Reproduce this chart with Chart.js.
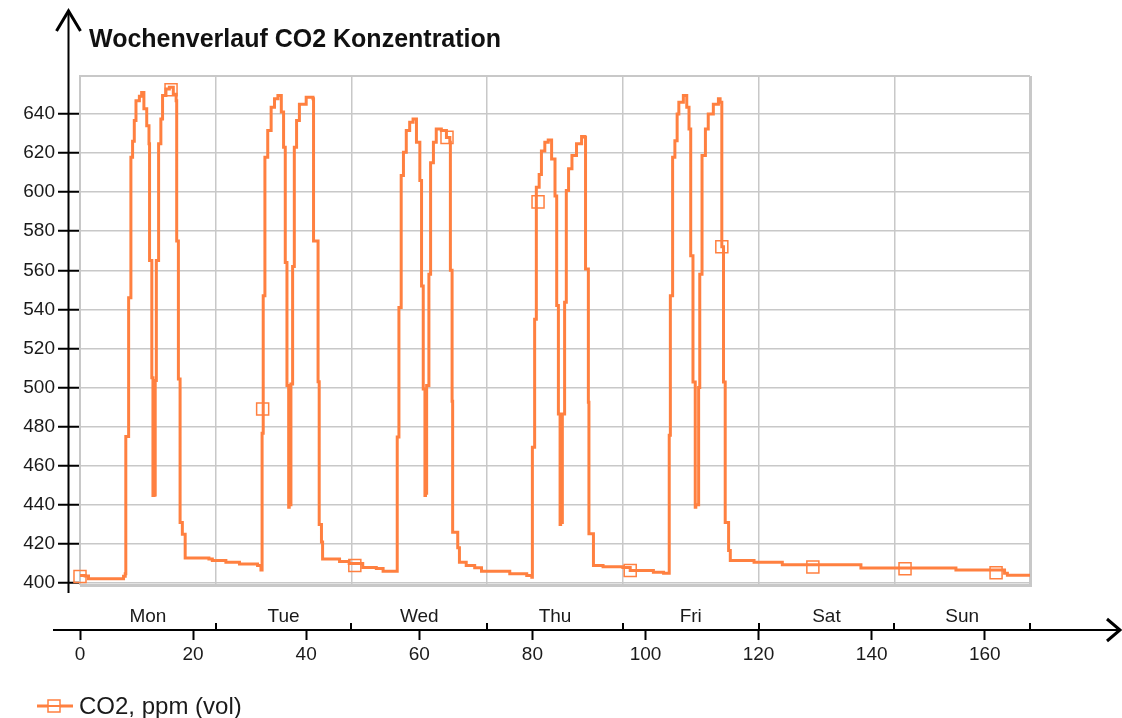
<!DOCTYPE html>
<html>
<head>
<meta charset="utf-8">
<title>Wochenverlauf CO2 Konzentration</title>
<script src="https://cdn.jsdelivr.net/npm/chart.js@4.4.1/dist/chart.umd.min.js"></script>
<style>
  html, body { margin: 0; padding: 0; background: #fff; }
  canvas { display: block; }
</style>
</head>
<body>
<canvas id="co2Chart" width="1122" height="718"></canvas>
<script>
// Chart data (hours since Monday 00:00, CO2 in ppm)
const chartTitle = 'Wochenverlauf CO2 Konzentration';
const seriesLabel = 'CO2, ppm (vol)';
const dayLabels = ['Mon', 'Tue', 'Wed', 'Thu', 'Fri', 'Sat', 'Sun'];

const hours = [
  // Mon
  0, 0.9, 1.5, 7.2, 7.7, 8.0,
  8.1, 8.6, 9.0, 9.3, 9.6, 9.9,
  10.5, 10.9, 11.3, 11.8, 12.2, 12.3,
  12.7, 12.9, 13.1, 13.3, 13.5, 13.9,
  14.3, 14.6, 15.2, 15.8, 16.5, 17.0,
  17.1, 17.4, 17.7, 18.1, 18.6, 22.8,
  23.4, 25.8, 28.2, 31.4, 32.0,
  // Tue
  32.2, 32.4, 32.7, 33.2, 33.8, 34.4,
  35.0, 35.6, 36.0, 36.3, 36.6, 36.9,
  37.0, 37.3, 37.6, 37.9, 38.3, 38.8,
  40.0, 41.2, 41.3, 42.1, 42.3, 42.7,
  42.9, 45.9, 47.6, 50.0, 52.4, 53.6,
  55.9,
  // Wed
  56.1, 56.4, 56.8, 57.2, 57.7, 58.3,
  58.9, 59.5, 60.1, 60.4, 60.7, 61.0,
  61.1, 61.3, 61.7, 62.0, 62.5, 63.0,
  63.9, 64.8, 65.4, 65.5, 65.8, 65.9,
  66.8, 67.1, 68.3, 69.8, 71.0, 73.6,
  76.0, 79.0, 79.9,
  // Thu
  80.0, 80.4, 80.7, 81.2, 81.6, 82.2,
  82.8, 83.4, 84.0, 84.3, 84.6, 84.9,
  85.0, 85.3, 85.7, 86.0, 86.4, 87.0,
  87.8, 88.7, 89.3, 89.4, 89.9, 90.0,
  90.8, 92.5, 96.0, 97.3, 100.9, 101.4,
  103.2, 104.0,
  // Fri - Sun
  104.2, 104.4, 104.8, 105.2, 105.6, 105.9,
  106.7, 107.3, 107.7, 108.0, 108.4, 108.8,
  108.9, 109.4, 109.6, 110.0, 110.6, 111.1,
  112.0, 112.9, 113.2, 113.5, 113.8, 114.1,
  114.7, 115.0, 119.1, 119.2, 124.1, 124.2,
  138.0, 138.1, 154.8, 154.9, 163.4, 163.5,
  164.0, 168.0
];

const co2 = [
  // Mon
  403.8, 403.6, 402.2, 402.2, 403.5, 404.7,
  475, 546, 617.8, 626, 636.6, 646.8,
  649, 651, 642.6, 634, 624.7, 565,
  505, 444.8, 445, 503.6, 565, 624.7,
  637.4, 649.4, 652.8, 653.6, 650, 646.8,
  575, 504.4, 431, 425, 412.8, 412.3,
  411.5, 410.6, 409.8, 409, 406.7,
  // Tue
  476.6, 547, 617.8, 631.5, 643.4, 647.7,
  649.4, 641, 623, 564, 501, 438.8,
  440, 501.8, 562, 623, 636.6, 645,
  648.5, 647.7, 575, 503, 430, 421,
  412.3, 411, 410, 408, 407.4, 406,
  406,
  // Wed
  474.7, 541, 608.5, 620.4, 631.5, 635.7,
  637.4, 625.5, 606, 552, 499.3, 444.8,
  446, 501, 558, 615, 625.5, 632.3,
  631.5, 628, 625.5, 560, 493, 426,
  418, 410.7, 409, 407.8, 406, 406,
  404.7, 403.9, 403,
  // Thu
  469.5, 535, 602.5, 609, 621, 625.5,
  626.6, 617, 598, 542, 486.5, 430,
  431, 486.5, 543.7, 600.8, 612, 618.7,
  624.7, 628.4, 628, 560.7, 492.5, 425.2,
  409, 408.3, 407.9, 406.4, 406.4, 405.5,
  405, 405,
  // Fri - Sun
  475.6, 547, 617.8, 626.3, 640, 646,
  649.4, 643.4, 632.3, 567.5, 502.8, 438.8,
  440, 500, 558, 618.7, 632.3, 640,
  645, 647.7, 646, 572, 502.8, 431,
  416.6, 411.5, 411.5, 410.6, 410.6, 409.4,
  409.4, 407.7, 407.7, 406.7, 406.7, 405,
  404, 404
];

// Square markers drawn on the series
const markerHours = [0, 16.1, 32.3, 48.6, 64.9, 81.0, 97.3, 113.5, 129.6, 145.9, 162.0];
const markerCo2 = [403.3, 652.4, 489, 409, 628, 595, 406.4, 572, 408.2, 407.3, 405.3];

// Axis ticks
const xTicks = [0, 20, 40, 60, 80, 100, 120, 140, 160];
const dayTicks = [0, 12, 24, 36, 48, 60, 72, 84, 96, 108, 120, 132, 144, 156, 168];
const yTicks = [400, 420, 440, 460, 480, 500, 520, 540, 560, 580, 600, 620, 640];

const lineColor = '#ff8040';
const gridColor = '#c8c8c8';
const textColor = '#1a1a1a';
const fontFamily = '"Liberation Sans", Arial, sans-serif';

// Axis arrows, plot frame, title and legend
const decorations = {
    id: 'decorations',
    beforeDatasetsDraw(chart) {
        const { ctx, chartArea: a } = chart;
        ctx.save();
        ctx.strokeStyle = gridColor;
        ctx.lineWidth = 2;
        ctx.beginPath();
        ctx.moveTo(a.left, a.bottom);
        ctx.lineTo(a.left, a.top);
        ctx.lineTo(a.right, a.top);
        ctx.stroke();
        ctx.lineWidth = 3;
        ctx.beginPath();
        ctx.moveTo(a.left, a.bottom + 0.5);
        ctx.lineTo(a.right + 0.5, a.bottom + 0.5);
        ctx.lineTo(a.right + 0.5, a.top);
        ctx.stroke();
        ctx.restore();
    },
    afterDraw(chart) {
        const { ctx, chartArea: a, scales } = chart;
        const yAxisX = a.left - 11.5;
        const xAxisY = scales.x.top;
        ctx.save();
        ctx.strokeStyle = '#000';
        ctx.lineWidth = 2;

        // y axis
        ctx.beginPath();
        ctx.moveTo(yAxisX, a.bottom + 8);
        ctx.lineTo(yAxisX, 12);
        ctx.stroke();
        ctx.lineWidth = 3;
        ctx.beginPath();
        ctx.moveTo(yAxisX - 12, 31);
        ctx.lineTo(yAxisX, 11);
        ctx.lineTo(yAxisX + 12, 31);
        ctx.stroke();

        // x axis
        ctx.lineWidth = 2;
        ctx.beginPath();
        ctx.moveTo(53, xAxisY);
        ctx.lineTo(1119, xAxisY);
        ctx.stroke();
        ctx.lineWidth = 3;
        ctx.beginPath();
        ctx.moveTo(1107, xAxisY - 11);
        ctx.lineTo(1120, xAxisY);
        ctx.lineTo(1107, xAxisY + 11);
        ctx.stroke();

        // day boundary ticks pointing up
        ctx.lineWidth = 2;
        ctx.beginPath();
        dayTicks.filter(v => v % 24 === 0 && v > 0).forEach(v => {
            const px = Math.round(scales.xd.getPixelForValue(v));
            ctx.moveTo(px, xAxisY - 7);
            ctx.lineTo(px, xAxisY);
        });
        ctx.stroke();

        // title
        ctx.fillStyle = '#111';
        ctx.font = 'bold 25px ' + fontFamily;
        ctx.textBaseline = 'alphabetic';
        ctx.fillText(chartTitle, 89, 47);

        // legend
        ctx.strokeStyle = lineColor;
        ctx.lineWidth = 3;
        ctx.beginPath();
        ctx.moveTo(37, 706);
        ctx.lineTo(73, 706);
        ctx.stroke();
        ctx.lineWidth = 1.5;
        ctx.fillStyle = '#fff';
        ctx.fillRect(48, 700, 12, 12);
        ctx.strokeRect(48, 700, 12, 12);
        ctx.beginPath();
        ctx.lineWidth = 2;
        ctx.moveTo(48, 706);
        ctx.lineTo(60, 706);
        ctx.stroke();
        ctx.fillStyle = textColor;
        ctx.font = '24px ' + fontFamily;
        ctx.fillText(seriesLabel, 79, 714);
        ctx.restore();
    }
};

const tickFont = { family: fontFamily, size: 19 };

new Chart(document.getElementById('co2Chart'), {
    type: 'line',
    data: {
        datasets: [
            {
                label: seriesLabel,
                data: hours.map((h, i) => ({ x: h, y: co2[i] })),
                borderColor: lineColor,
                borderWidth: 3,
                pointRadius: 0,
                stepped: true,
                fill: false
            },
            {
                label: 'markers',
                data: markerHours.map((h, i) => ({ x: h, y: markerCo2[i] })),
                showLine: false,
                pointStyle: 'rect',
                pointRadius: 8.5,
                pointBorderWidth: 1.5,
                pointBorderColor: lineColor,
                pointBackgroundColor: 'rgba(0,0,0,0)',
                clip: false
            }
        ]
    },
    options: {
        responsive: false,
        animation: false,
        events: [],
        layout: { padding: { top: 76, right: 92, bottom: 48, left: 0 } },
        plugins: {
            legend: { display: false },
            tooltip: { enabled: false }
        },
        scales: {
            xd: {
                type: 'linear',
                position: 'bottom',
                weight: 0,
                min: 0,
                max: 168,
                afterBuildTicks: scale => { scale.ticks = dayTicks.map(v => ({ value: v })); },
                afterFit: scale => { scale.height = 45; },
                grid: {
                    drawTicks: false,
                    lineWidth: 1.5,
                    color: ctx => (ctx.tick && ctx.tick.value % 24 === 0 ? gridColor : 'rgba(0,0,0,0)')
                },
                border: { display: false },
                ticks: {
                    autoSkip: false,
                    maxRotation: 0,
                    padding: 20,
                    font: tickFont,
                    color: textColor,
                    callback: v => (v % 24 === 12 ? dayLabels[(v - 12) / 24] : '')
                }
            },
            x: {
                type: 'linear',
                position: 'bottom',
                weight: 1,
                min: 0,
                max: 168,
                afterBuildTicks: scale => { scale.ticks = xTicks.map(v => ({ value: v })); },
                afterFit: scale => { scale.height = 40; },
                grid: {
                    drawOnChartArea: false,
                    drawTicks: true,
                    tickLength: 10,
                    tickColor: '#000',
                    tickWidth: 2
                },
                border: { display: false },
                ticks: {
                    autoSkip: false,
                    maxRotation: 0,
                    padding: 3,
                    font: tickFont,
                    color: textColor
                }
            },
            y: {
                type: 'linear',
                position: 'left',
                min: 399,
                max: 659.4,
                afterBuildTicks: scale => { scale.ticks = yTicks.map(v => ({ value: v })); },
                afterFit: scale => { scale.width = 80; },
                grid: {
                    color: gridColor,
                    lineWidth: 1.5,
                    tickLength: 22,
                    tickColor: '#000',
                    tickWidth: 2
                },
                border: { display: false },
                ticks: {
                    padding: 3,
                    font: tickFont,
                    color: textColor
                }
            }
        }
    },
    plugins: [decorations]
});
</script>
</body>
</html>
